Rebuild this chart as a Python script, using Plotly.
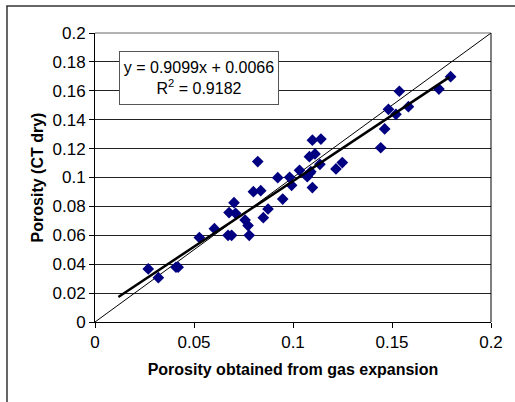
import plotly.graph_objects as go

gas_porosity = [0.0269, 0.0320, 0.0409, 0.0420, 0.0527, 0.0603, 0.0672, 0.0690, 0.0677, 0.0702,
                0.0710, 0.0758, 0.0773, 0.0779, 0.0800, 0.0822, 0.0837, 0.0850, 0.0874, 0.0923,
                0.0948, 0.0983, 0.0993, 0.1033, 0.1072, 0.1085, 0.1090, 0.1083, 0.1111, 0.1098,
                0.1141, 0.1098, 0.1136, 0.1217, 0.1249, 0.1443, 0.1463, 0.1482, 0.1520, 0.1537,
                0.1583, 0.1737, 0.1796]
ct_porosity = [0.0367, 0.0307, 0.0379, 0.0379, 0.0584, 0.0646, 0.0600, 0.0600, 0.0757, 0.0826,
               0.0752, 0.0706, 0.0667, 0.0600, 0.0902, 0.1110, 0.0909, 0.0722, 0.0782, 0.0999,
               0.0851, 0.1001, 0.0946, 0.1050, 0.1006, 0.1030, 0.1040, 0.1144, 0.1163, 0.1258,
               0.1266, 0.0930, 0.1091, 0.1059, 0.1103, 0.1206, 0.1336, 0.1472, 0.1437, 0.1597,
               0.1490, 0.1612, 0.1698]

slope = 0.9099
intercept = 0.0066
r_squared = 0.9182
trend_x = [0.0118, 0.1790]
trend_y = [slope * v + intercept for v in trend_x]
identity = [0.0, 0.2]

tick_vals_x = [0, 0.05, 0.1, 0.15, 0.2]
tick_text_x = ["0", "0.05", "0.1", "0.15", "0.2"]
tick_vals_y = [0, 0.02, 0.04, 0.06, 0.08, 0.1, 0.12, 0.14, 0.16, 0.18, 0.2]
tick_text_y = ["0", "0.02", "0.04", "0.06", "0.08", "0.1", "0.12", "0.14", "0.16", "0.18", "0.2"]

FONT = "Liberation Sans, Arial, sans-serif"

fig = go.Figure()
fig.add_trace(go.Scatter(x=identity, y=identity, mode="lines",
                         line=dict(color="black", width=1), hoverinfo="skip", showlegend=False))
fig.add_trace(go.Scatter(x=gas_porosity, y=ct_porosity, mode="markers",
                         marker=dict(symbol="diamond", size=9, color="#000080",
                                     line=dict(width=0)),
                         showlegend=False))
fig.add_trace(go.Scatter(x=trend_x, y=trend_y, mode="lines",
                         line=dict(color="black", width=2.5), showlegend=False))

W, H = 515, 402
L, R, T, B = 95, 24, 33, 80
pw, ph = W - L - R, H - T - B

def px_x(p):
    return (p - L) / pw

def px_y(p):
    return (H - B - p) / ph

FRAME_COLOR = "#333333"

fig.update_layout(
    width=W, height=H,
    margin=dict(l=L, r=R, t=T, b=B),
    paper_bgcolor="white", plot_bgcolor="white",
    font=dict(family=FONT, size=16, color="black"),
    xaxis=dict(range=[0, 0.2], tickvals=tick_vals_x, ticktext=tick_text_x,
               showgrid=False, zeroline=False, showline=True, linecolor="black", linewidth=1,
               ticks="outside", ticklen=5, tickcolor="black", mirror=False,
               tickfont=dict(size=17),
               title=dict(text="<b>Porosity obtained from gas expansion</b>",
                          font=dict(size=16), standoff=12)),
    yaxis=dict(range=[0, 0.2], tickvals=tick_vals_y, ticktext=tick_text_y,
               showgrid=True, gridcolor="#222222", gridwidth=1,
               zeroline=False, showline=True, linecolor="black", linewidth=1,
               ticks="outside", ticklen=5, tickcolor="black",
               tickfont=dict(size=17),
               title=dict(text="<b>Porosity (CT dry)</b>", font=dict(size=16), standoff=4)),
    shapes=[
        dict(type="line", xref="paper", yref="paper", x0=0, x1=1, y0=1, y1=1,
             line=dict(color="#666666", width=1)),
        dict(type="line", xref="paper", yref="paper", x0=1, x1=1, y0=0, y1=1,
             line=dict(color="black", width=1)),
        dict(type="rect", xref="paper", yref="paper",
             x0=px_x(6.25), x1=px_x(W), y0=px_y(6.75), y1=px_y(5.25),
             line=dict(width=0), fillcolor=FRAME_COLOR),
        dict(type="line", xref="paper", yref="paper",
             x0=px_x(7), x1=px_x(7), y0=px_y(H), y1=px_y(6),
             line=dict(color=FRAME_COLOR, width=1.5)),
    ],
    annotations=[
        dict(xref="paper", yref="paper", x=px_x(199), y=px_y(78),
             xanchor="center", yanchor="middle", showarrow=False,
             text=f"y = {slope}x + {intercept:.4f}<br>R<sup>2</sup> = {r_squared}",
             font=dict(size=16, family=FONT), align="center",
             bgcolor="white", bordercolor="#555555", borderwidth=1,
             width=154, height=48, borderpad=2),
    ],
)

fig.write_html("out.html")
